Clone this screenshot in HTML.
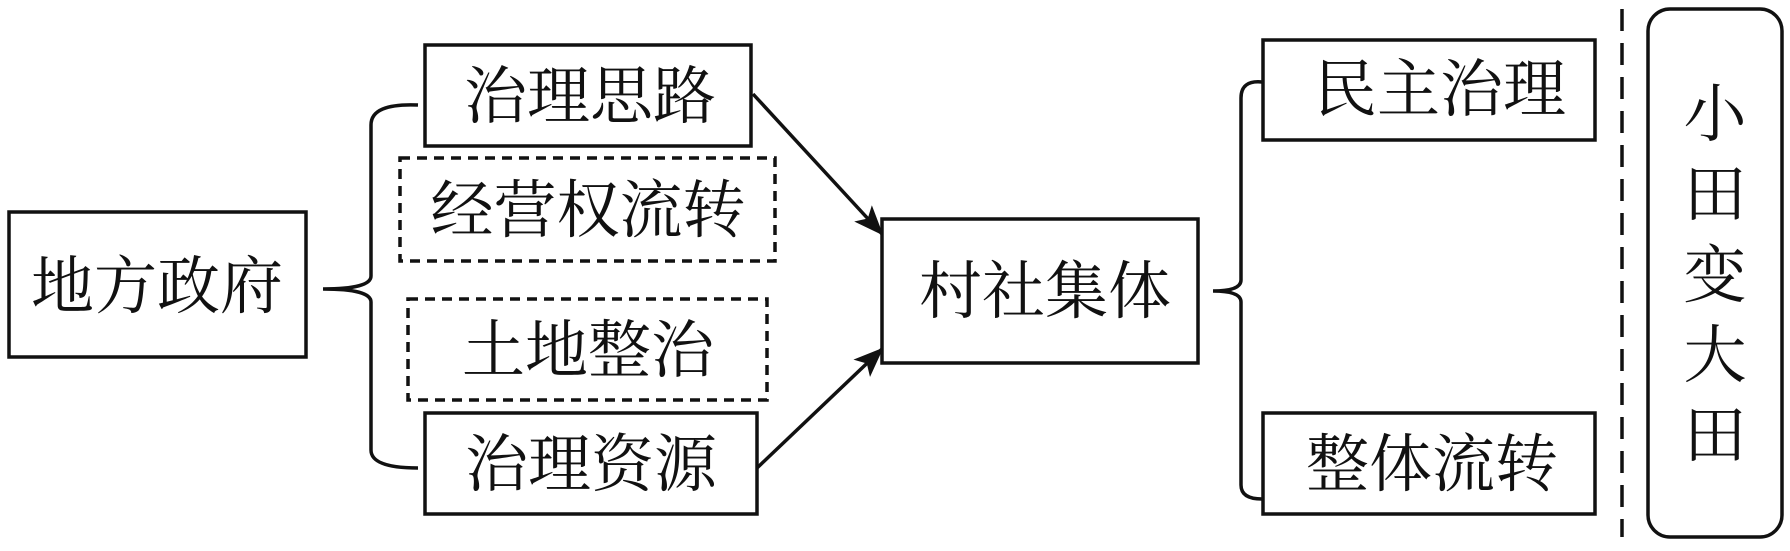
<!DOCTYPE html>
<html><head><meta charset="utf-8"><style>
html,body{margin:0;padding:0;background:#fff;}
svg text{font-family:"Liberation Serif","Noto Serif CJK SC",serif;font-size:63px;fill:#111;text-anchor:middle;dominant-baseline:central;}
</style></head><body>
<svg width="1790" height="546" viewBox="0 0 1790 546" xmlns="http://www.w3.org/2000/svg">
<defs>
<marker id="b" markerWidth="30" markerHeight="30" refX="28" refY="15" orient="auto" markerUnits="userSpaceOnUse" viewBox="0 0 30 30"><path d="M0,3 L30,15 L0,27 L7,15 z" fill="#111"/></marker></defs>
<g fill="none" stroke="#111" stroke-width="3.5">
<rect x="9" y="212" width="297" height="145"/>
<rect x="425" y="45" width="326" height="101"/>
<rect x="400" y="158" width="375" height="103" stroke-dasharray="10,7"/>
<rect x="408" y="299" width="359" height="101" stroke-dasharray="10,7"/>
<rect x="425" y="413" width="332" height="101"/>
<rect x="882" y="219" width="316" height="144"/>
<rect x="1263" y="40" width="332" height="100"/>
<rect x="1263" y="413" width="332" height="101"/>
<line x1="1622" y1="9" x2="1622" y2="537" stroke-dasharray="22,12"/>
<rect x="1648" y="9" width="134" height="528" rx="22"/>
<path d="M418,105 Q371,103 371,125 L371,276 Q371,289 323,289 Q371,289 371,302 L371,450 Q371,468 418,468"/>
<path d="M1262,82 Q1241,80 1241,98 L1241,280 Q1241,291 1213,291 Q1241,291 1241,302 L1241,485 Q1241,499 1262,499"/>
<line x1="753" y1="94" x2="882" y2="234" marker-end="url(#b)"/>
<line x1="757" y1="468" x2="882" y2="349" marker-end="url(#b)"/>
</g>
<text x="157" y="287">地方政府</text>
<text x="590" y="97">治理思路</text>
<text x="588" y="211">经营权流转</text>
<text x="588" y="351">土地整治</text>
<text x="591" y="465">治理资源</text>
<text x="1045" y="292">村社集体</text>
<text x="1440" y="90">民主治理</text>
<text x="1432" y="465">整体流转</text>
<text x="1715" y="115">小</text>
<text x="1715" y="195">田</text>
<text x="1715" y="276">变</text>
<text x="1715" y="356">大</text>
<text x="1715" y="436">田</text>
</svg>
</body></html>
